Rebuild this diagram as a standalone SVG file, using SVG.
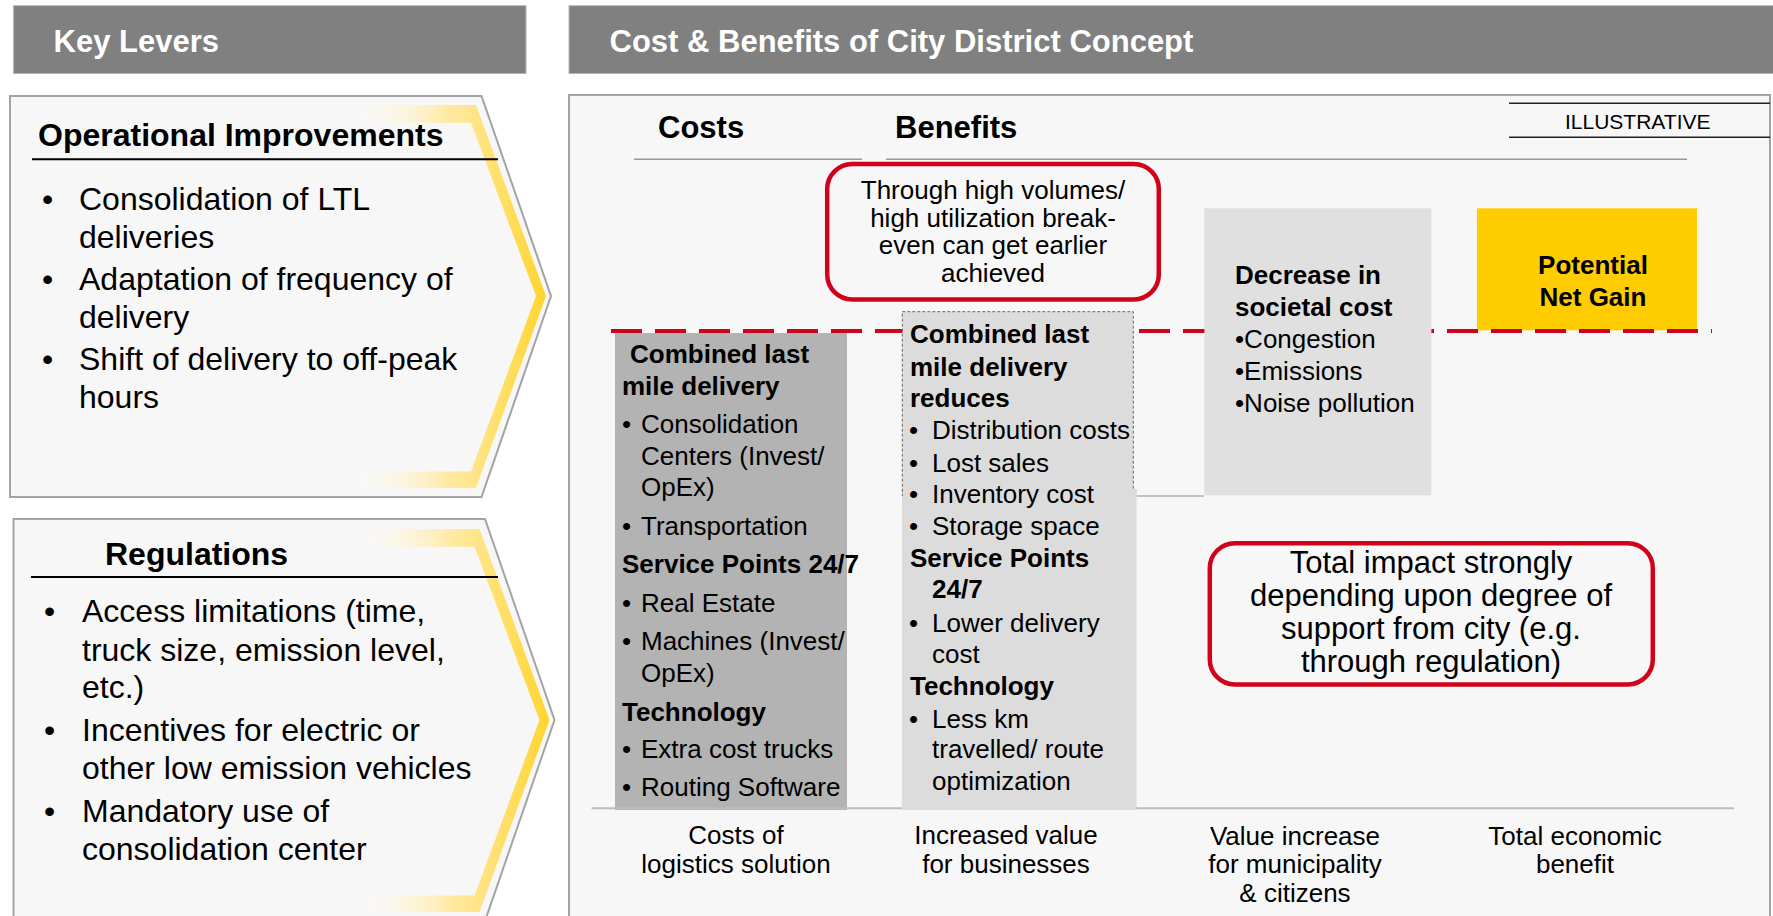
<svg xmlns="http://www.w3.org/2000/svg" width="1773" height="916" viewBox="0 0 1773 916">
<style>
text{font-family:"Liberation Sans",Arial,sans-serif;fill:#000}
.hd{font-size:31px;font-weight:bold;fill:#fff}
.h32{font-size:32px;font-weight:bold}
.t32{font-size:32px}
.t31{font-size:31px}
.b26{font-size:26px;font-weight:bold}
.t26{font-size:26px}
.mid{text-anchor:middle}
.panel{fill:#f7f7f7;stroke:#a3a3a3;stroke-width:2}
.hbar{fill:#808080;stroke:#b5b5b5;stroke-width:1}
.redbox{fill:none;stroke:#d0021b;stroke-width:4.5}
</style>
<defs>
<linearGradient id="yg" gradientUnits="userSpaceOnUse" x1="347" y1="0" x2="546" y2="0">
<stop offset="0" stop-color="#ffffff" stop-opacity="0"/>
<stop offset="0.5" stop-color="#ffeaa6"/>
<stop offset="0.7" stop-color="#ffe27a"/>
<stop offset="1" stop-color="#ffd52e"/>
</linearGradient>
<path id="band" d="M347,105 L476,105 L546,296 L476,488 L347,488 L347,471.5 L471,471.5 L536,296 L471,122.7 L347,122.7 Z" fill="url(#yg)"/>
</defs>

<g id="header-key-levers">
<rect class="hbar" x="13.6" y="5.7" width="512.4" height="67.8"/>
<text class="hd" x="53.6" y="52">Key Levers</text>
</g>
<g id="header-cost-benefits">
<rect class="hbar" x="569" y="5.7" width="1210" height="67.8"/>
<text class="hd" x="609.5" y="52">Cost &amp; Benefits of City District Concept</text>
</g>

<g id="lever-operational">
<path class="panel" d="M10,96 L481.5,96 L551,296 L481.5,497 L10,497 Z"/>
<use href="#band"/>
<text class="h32" x="38" y="146">Operational Improvements</text>
<line x1="32" y1="159.3" x2="498" y2="159.3" stroke="#000" stroke-width="2"/>
<text class="t32" x="42" y="210">•</text><text class="t32" x="79" y="210">Consolidation of LTL</text>
<text class="t32" x="79" y="247.5">deliveries</text>
<text class="t32" x="42" y="290">•</text><text class="t32" x="79" y="290">Adaptation of frequency of</text>
<text class="t32" x="79" y="328">delivery</text>
<text class="t32" x="42" y="370">•</text><text class="t32" x="79" y="370">Shift of delivery to off-peak</text>
<text class="t32" x="79" y="408">hours</text>
</g>

<g id="lever-regulations">
<path class="panel" d="M13.5,519 L485,519 L554.5,720 L485,921 L13.5,921 Z"/>
<use href="#band" transform="translate(3.5,424)"/>
<text class="h32" x="105" y="565">Regulations</text>
<line x1="31" y1="577" x2="498" y2="577" stroke="#000" stroke-width="2"/>
<text class="t32" x="44" y="621.7">•</text><text class="t32" x="82" y="621.7">Access limitations (time,</text>
<text class="t32" x="82" y="660.7">truck size, emission level,</text>
<text class="t32" x="82" y="698">etc.)</text>
<text class="t32" x="44" y="740.7">•</text><text class="t32" x="82" y="740.7">Incentives for electric or</text>
<text class="t32" x="82" y="779">other low emission vehicles</text>
<text class="t32" x="44" y="821.7">•</text><text class="t32" x="82" y="821.7">Mandatory use of</text>
<text class="t32" x="82" y="860">consolidation center</text>
</g>

<g id="chart-panel">
<rect class="panel" x="569" y="95" width="1201" height="900"/>
<text class="h32" style="font-size:31px" x="658" y="138">Costs</text>
<text class="h32" style="font-size:31px" x="895" y="138">Benefits</text>
<line x1="634" y1="159.3" x2="862" y2="159.3" stroke="#999" stroke-width="1.5"/>
<line x1="886" y1="159.3" x2="1687" y2="159.3" stroke="#999" stroke-width="1.5"/>
</g>

<g id="illustrative">
<line x1="1509" y1="103.3" x2="1770" y2="103.3" stroke="#222" stroke-width="1.5"/>
<line x1="1509" y1="137.3" x2="1770" y2="137.3" stroke="#222" stroke-width="1.5"/>
<text x="1565" y="129" style="font-size:21px">ILLUSTRATIVE</text>
</g>

<g id="note-breakeven">
<rect class="redbox" x="827.2" y="164" width="331.6" height="135.5" rx="25"/>
<text class="t26 mid" x="993" y="199">Through high volumes/</text>
<text class="t26 mid" x="993" y="226.5">high utilization break-</text>
<text class="t26 mid" x="993" y="254">even can get earlier</text>
<text class="t26 mid" x="993" y="281.5">achieved</text>
</g>

<g id="bar-costs">
<rect x="615" y="333" width="232" height="477" fill="#b3b3b3"/>
</g>
<g id="bar-net-gain">
<rect x="1477" y="208.3" width="220" height="122" fill="#ffcc00"/>
<text class="b26 mid" x="1593" y="274">Potential</text>
<text class="b26 mid" x="1593" y="306">Net Gain</text>
</g>

<g id="connectors">
<line x1="611" y1="331" x2="1712" y2="331" stroke="#d0021b" stroke-width="4" stroke-dasharray="31 13"/>
<line x1="591.6" y1="808.3" x2="1734" y2="808.3" stroke="#bdbdbd" stroke-width="2"/>
<line x1="1136.5" y1="496" x2="1204" y2="496" stroke="#b0b0b0" stroke-width="1.5"/>
</g>

<g id="bar-costs-text">
<text class="b26" x="630" y="362.7">Combined last</text>
<text class="b26" x="622" y="395">mile delivery</text>
<text class="t26" x="622" y="432.7">•</text><text class="t26" x="641" y="432.7">Consolidation</text>
<text class="t26" x="641" y="465">Centers (Invest/</text>
<text class="t26" x="641" y="496">OpEx)</text>
<text class="t26" x="622" y="535">•</text><text class="t26" x="641" y="535">Transportation</text>
<text class="b26" x="622" y="573.3">Service Points 24/7</text>
<text class="t26" x="622" y="611.7">•</text><text class="t26" x="641" y="611.7">Real Estate</text>
<text class="t26" x="622" y="650">•</text><text class="t26" x="641" y="650">Machines (Invest/</text>
<text class="t26" x="641" y="681.7">OpEx)</text>
<text class="b26" x="622" y="720.7">Technology</text>
<text class="t26" x="622" y="758.3">•</text><text class="t26" x="641" y="758.3">Extra cost trucks</text>
<text class="t26" x="622" y="796">•</text><text class="t26" x="641" y="796">Routing Software</text>
</g>

<g id="bar-business">
<rect x="902" y="489" width="234.5" height="321" fill="#dcdcdc"/>
<rect x="902.3" y="311.7" width="231" height="184" fill="#dcdcdc" stroke="#666" stroke-width="1" stroke-dasharray="3 2"/>
<rect x="903" y="489" width="233.5" height="10" fill="#dcdcdc"/>
<text class="b26" x="910" y="343">Combined last</text>
<text class="b26" x="910" y="376">mile delivery</text>
<text class="b26" x="910" y="406.7">reduces</text>
<text class="t26" x="909" y="439">•</text><text class="t26" x="932" y="439">Distribution costs</text>
<text class="t26" x="909" y="471.7">•</text><text class="t26" x="932" y="471.7">Lost sales</text>
<text class="t26" x="909" y="503.3">•</text><text class="t26" x="932" y="503.3">Inventory cost</text>
<text class="t26" x="909" y="535">•</text><text class="t26" x="932" y="535">Storage space</text>
<text class="b26" x="910" y="567.3">Service Points</text>
<text class="b26" x="932" y="598.3">24/7</text>
<text class="t26" x="909" y="631.7">•</text><text class="t26" x="932" y="631.7">Lower delivery</text>
<text class="t26" x="932" y="662.7">cost</text>
<text class="b26" x="910" y="695">Technology</text>
<text class="t26" x="909" y="727.7">•</text><text class="t26" x="932" y="727.7">Less km</text>
<text class="t26" x="932" y="758.3">travelled/ route</text>
<text class="t26" x="932" y="790">optimization</text>
</g>

<g id="bar-societal">
<rect x="1204.4" y="208.3" width="227" height="287" fill="#e0e0e0"/>
<text class="b26" x="1235" y="284">Decrease in</text>
<text class="b26" x="1235" y="316">societal cost</text>
<text class="t26" x="1235" y="348.3">•Congestion</text>
<text class="t26" x="1235" y="380">•Emissions</text>
<text class="t26" x="1235" y="412.3">•Noise pollution</text>
</g>

<g id="note-impact">
<rect class="redbox" x="1209.8" y="543.2" width="443" height="141.3" rx="25"/>
<text class="t31 mid" x="1431" y="573.3">Total impact strongly</text>
<text class="t31 mid" x="1431" y="606.3">depending upon degree of</text>
<text class="t31 mid" x="1431" y="639">support from city (e.g.</text>
<text class="t31 mid" x="1431" y="671.7">through regulation)</text>
</g>

<g id="axis-labels">
<text class="t26 mid" x="736" y="844">Costs of</text>
<text class="t26 mid" x="736" y="873">logistics solution</text>
<text class="t26 mid" x="1006" y="844">Increased value</text>
<text class="t26 mid" x="1006" y="873">for businesses</text>
<text class="t26 mid" x="1295" y="845">Value increase</text>
<text class="t26 mid" x="1295" y="873.3">for municipality</text>
<text class="t26 mid" x="1295" y="901.7">&amp; citizens</text>
<text class="t26 mid" x="1575" y="845">Total economic</text>
<text class="t26 mid" x="1575" y="873.3">benefit</text>
</g>
</svg>
